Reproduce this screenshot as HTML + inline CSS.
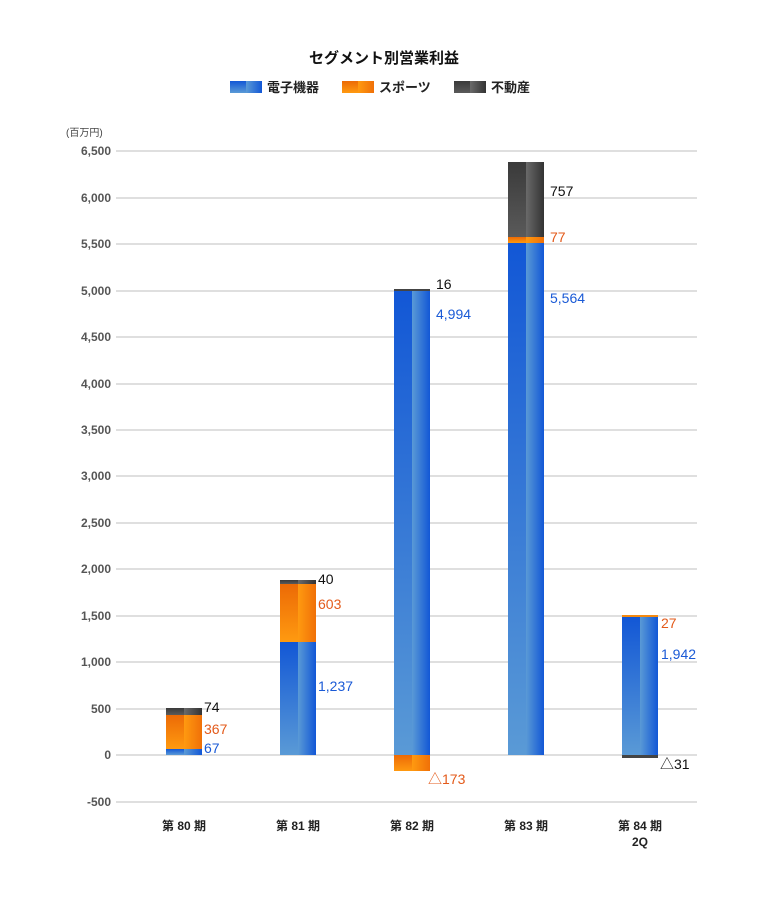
<!DOCTYPE html>
<html><head><meta charset="utf-8"><style>
body{margin:0;background:#fff;width:768px;height:900px;overflow:hidden}
text{font-family:"Liberation Sans","Noto Sans CJK JP",sans-serif}
</style></head><body>
<svg width="768" height="900" xmlns="http://www.w3.org/2000/svg">
<defs>
<linearGradient id="bv" x1="0" y1="0" x2="0" y2="1"><stop offset="0" stop-color="#1257d6"/><stop offset="1" stop-color="#5a9ad6"/></linearGradient>
<linearGradient id="bh" x1="0" y1="0" x2="1" y2="0"><stop offset="0" stop-color="#5a9ad6"/><stop offset="1" stop-color="#1257d6"/></linearGradient>
<linearGradient id="ov" x1="0" y1="0" x2="0" y2="1"><stop offset="0" stop-color="#ec6a06"/><stop offset="1" stop-color="#ff9a10"/></linearGradient>
<linearGradient id="oh" x1="0" y1="0" x2="1" y2="0"><stop offset="0" stop-color="#ff9a10"/><stop offset="1" stop-color="#f07008"/></linearGradient>
<linearGradient id="gv" x1="0" y1="0" x2="0" y2="1"><stop offset="0" stop-color="#3a3a3a"/><stop offset="1" stop-color="#5a5a5a"/></linearGradient>
<linearGradient id="gh" x1="0" y1="0" x2="1" y2="0"><stop offset="0" stop-color="#6a6a6a"/><stop offset="1" stop-color="#333"/></linearGradient>
</defs>
<text x="384" y="63" text-anchor="middle" font-size="15" font-weight="bold" fill="#111">セグメント別営業利益</text>
<rect x="230" y="81" width="16" height="12" fill="url(#bv)"/><rect x="246" y="81" width="16" height="12" fill="url(#bh)"/>
<text x="267" y="92" font-size="13" font-weight="bold" fill="#222">電子機器</text>
<rect x="342" y="81" width="16" height="12" fill="url(#ov)"/><rect x="358" y="81" width="16" height="12" fill="url(#oh)"/>
<text x="379" y="92" font-size="13" font-weight="bold" fill="#222">スポーツ</text>
<rect x="454" y="81" width="16" height="12" fill="url(#gv)"/><rect x="470" y="81" width="16" height="12" fill="url(#gh)"/>
<text x="491" y="92" font-size="13" font-weight="bold" fill="#222">不動産</text>
<text x="66" y="136" font-size="10" fill="#444">(百万円)</text>
<g stroke="#ccc" stroke-width="1.2">
<line x1="116" x2="697" y1="151" y2="151"/><line x1="116" x2="697" y1="198" y2="198"/><line x1="116" x2="697" y1="244" y2="244"/><line x1="116" x2="697" y1="291" y2="291"/><line x1="116" x2="697" y1="337" y2="337"/><line x1="116" x2="697" y1="384" y2="384"/><line x1="116" x2="697" y1="430" y2="430"/><line x1="116" x2="697" y1="476" y2="476"/><line x1="116" x2="697" y1="523" y2="523"/><line x1="116" x2="697" y1="569" y2="569"/><line x1="116" x2="697" y1="616" y2="616"/><line x1="116" x2="697" y1="662" y2="662"/><line x1="116" x2="697" y1="709" y2="709"/><line x1="116" x2="697" y1="755" y2="755"/><line x1="116" x2="697" y1="802" y2="802"/>
</g>
<g font-size="12" font-weight="bold" fill="#555" text-anchor="end">
<text x="111" y="155">6,500</text><text x="111" y="202">6,000</text><text x="111" y="248">5,500</text><text x="111" y="295">5,000</text><text x="111" y="341">4,500</text><text x="111" y="388">4,000</text><text x="111" y="434">3,500</text><text x="111" y="480">3,000</text><text x="111" y="527">2,500</text><text x="111" y="573">2,000</text><text x="111" y="620">1,500</text><text x="111" y="666">1,000</text><text x="111" y="713">500</text><text x="111" y="759">0</text><text x="111" y="806">-500</text>
</g>
<!-- bar 80 -->
<rect x="166" y="749" width="18" height="6" fill="url(#bv)"/><rect x="184" y="749" width="18" height="6" fill="url(#bh)"/>
<rect x="166" y="715" width="18" height="34" fill="url(#ov)"/><rect x="184" y="715" width="18" height="34" fill="url(#oh)"/>
<rect x="166" y="708" width="18" height="7" fill="url(#gv)"/><rect x="184" y="708" width="18" height="7" fill="url(#gh)"/>
<!-- bar 81 -->
<rect x="280" y="642" width="18" height="113" fill="url(#bv)"/><rect x="298" y="642" width="18" height="113" fill="url(#bh)"/>
<rect x="280" y="584" width="18" height="58" fill="url(#ov)"/><rect x="298" y="584" width="18" height="58" fill="url(#oh)"/>
<rect x="280" y="580" width="18" height="4" fill="url(#gv)"/><rect x="298" y="580" width="18" height="4" fill="url(#gh)"/>
<!-- bar 82 -->
<rect x="394" y="291" width="18" height="464" fill="url(#bv)"/><rect x="412" y="291" width="18" height="464" fill="url(#bh)"/>
<rect x="394" y="289" width="36" height="2" fill="#444"/>
<rect x="394" y="755" width="18" height="16" fill="url(#ov)"/><rect x="412" y="755" width="18" height="16" fill="url(#oh)"/>
<!-- bar 83 -->
<rect x="508" y="243" width="18" height="512" fill="url(#bv)"/><rect x="526" y="243" width="18" height="512" fill="url(#bh)"/>
<rect x="508" y="237" width="18" height="6" fill="url(#ov)"/><rect x="526" y="237" width="18" height="6" fill="url(#oh)"/>
<rect x="508" y="162" width="18" height="75" fill="url(#gv)"/><rect x="526" y="162" width="18" height="75" fill="url(#gh)"/>
<!-- bar 84 -->
<rect x="622" y="617" width="18" height="138" fill="url(#bv)"/><rect x="640" y="617" width="18" height="138" fill="url(#bh)"/>
<rect x="622" y="615" width="36" height="2" fill="#f58a10"/>
<rect x="622" y="755" width="36" height="3" fill="#444"/>
<g font-size="14">
<text x="204" y="712" fill="#111">74</text><text x="204" y="734" fill="#e35a1a">367</text><text x="204" y="753" fill="#1a5ad6">67</text>
<text x="318" y="584" fill="#111">40</text><text x="318" y="609" fill="#e35a1a">603</text><text x="318" y="691" fill="#1a5ad6">1,237</text>
<text x="436" y="289" fill="#111">16</text><text x="436" y="319" fill="#1a5ad6">4,994</text><text x="428" y="784" fill="#e35a1a">△173</text>
<text x="550" y="196" fill="#111">757</text><text x="550" y="242" fill="#e35a1a">77</text><text x="550" y="303" fill="#1a5ad6">5,564</text>
<text x="661" y="628" fill="#e35a1a">27</text><text x="661" y="659" fill="#1a5ad6">1,942</text><text x="660" y="769" fill="#111">△31</text>
</g>
<g font-size="12" font-weight="bold" fill="#222" text-anchor="middle">
<text x="184" y="830">第 80 期</text><text x="298" y="830">第 81 期</text><text x="412" y="830">第 82 期</text><text x="526" y="830">第 83 期</text><text x="640" y="830">第 84 期</text><text x="640" y="846">2Q</text>
</g>
</svg>
</body></html>
